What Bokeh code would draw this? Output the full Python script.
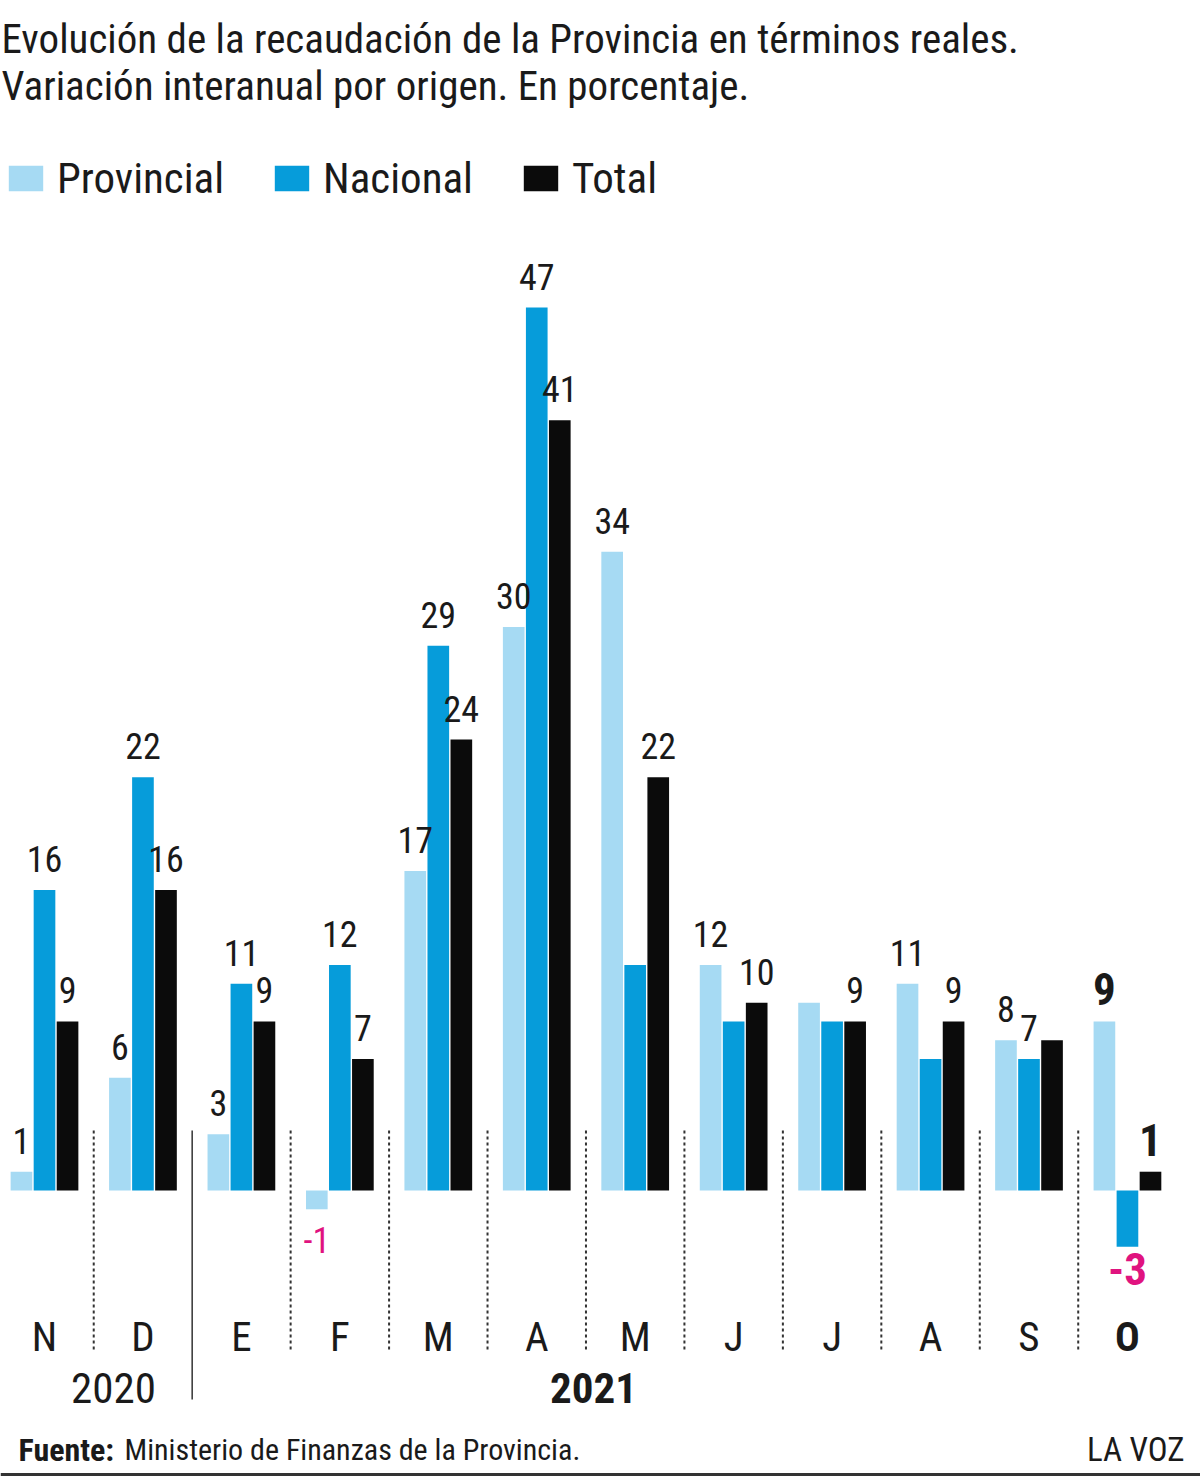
from bokeh.plotting import figure
from bokeh.models import Range1d, ColumnDataSource, Label, Legend, LegendItem, Span
from bokeh.embed import file_html
from bokeh.resources import INLINE
from bokeh.core.properties import value

# ---------------- data ----------------
months = ["N", "D", "E", "F", "M", "A", "M", "J", "J", "A", "S", "O"]
years = ["2020", "2020", "2021", "2021", "2021", "2021", "2021", "2021", "2021", "2021", "2021", "2021"]
provincial = [1, 6, 3, -1, 17, 30, 34, 12, 10, 11, 8, 9]
nacional = [16, 22, 11, 12, 29, 47, 12, 9, 9, 7, 7, -3]
total = [9, 16, 9, 7, 24, 41, 22, 10, 9, 9, 8, 1]
# which value labels are printed in the original
show_prov = [1, 1, 1, 1, 1, 1, 1, 1, 0, 1, 1, 1]
show_nac = [1, 1, 1, 1, 1, 1, 0, 0, 0, 0, 1, 1]
show_tot = [1, 1, 1, 1, 1, 1, 1, 1, 1, 1, 0, 1]
highlight = [0, 0, 0, 0, 0, 0, 0, 0, 0, 0, 0, 1]

title_lines = ["Evolución de la recaudación de la Provincia en términos reales.",
               "Variación interanual por origen. En porcentaje."]
series_names = ["Provincial", "Nacional", "Total"]
source_bold = "Fuente:"
source_text = "Ministerio de Finanzas de la Provincia."
brand = "LA VOZ"

# ---------------- style ----------------
FONT = "Roboto Condensed"
C_PROV = "#a6daf3"
C_NAC = "#069cda"
C_TOT = "#0b0b0b"
C_TXT = "#1a1a1a"
C_NEG = "#e0137f"

W, H = 1200, 1477
GX0, GPX = 44.0, 98.45      # pixel centre of first group, pixel spacing between groups
Y0, YPX = 1190.0, 18.787    # pixel row of zero, pixels per percentage point


def xd(px):
    return (px - GX0) / GPX


def yd(py):
    return (Y0 - py) / YPX


p = figure(width=W, height=H, x_range=Range1d(xd(0), xd(W)), y_range=Range1d(yd(H), yd(0)),
           x_axis_type=None, y_axis_type=None, min_border=0, toolbar_location=None,
           output_backend="svg", outline_line_color=None, background_fill_color="white",
           border_fill_color="white")

n = len(months)
idx = list(range(n))
OFF = 0.234
BW = 0.22
series = [(provincial, show_prov, C_PROV, -OFF), (nacional, show_nac, C_NAC, 0.0), (total, show_tot, C_TOT, OFF)]

renderers = []
for vals, show, col, off in series:
    src = ColumnDataSource(dict(x=[i + off for i in idx], top=vals))
    r = p.vbar(x="x", top="top", bottom=0, width=BW, source=src, fill_color=col, line_color=None)
    renderers.append(r)

# value labels
pos = dict(x=[], y=[], text=[], size=[], style=[], color=[], off=[])
neg = dict(x=[], y=[], text=[], size=[], style=[], color=[], off=[])
for vals, show, col, off in series:
    for i in idx:
        if not show[i]:
            continue
        v = vals[i]
        d = pos if v >= 0 else neg
        d["x"].append(i + off)
        d["y"].append(v)
        d["text"].append(str(v))
        d["size"].append("45px" if highlight[i] else "36px")
        d["style"].append("bold" if highlight[i] else "normal")
        d["color"].append(C_NEG if v < 0 else C_TXT)
        if v >= 0:
            d["off"].append(-16 if highlight[i] else -18)
        else:
            d["off"].append(6 if highlight[i] else 18)

p.text(x="x", y="y", text="text", source=ColumnDataSource(pos), text_font=value(FONT),
       text_font_size="size", text_font_style="style", text_color="color",
       text_align="center", text_baseline="bottom", y_offset="off")
p.text(x="x", y="y", text="text", source=ColumnDataSource(neg), text_font=value(FONT),
       text_font_size="size", text_font_style="style", text_color="color",
       text_align="center", text_baseline="top", y_offset="off")

# separators between months
sep = dict(x=[], y0=[], y1=[])
ysep = dict(x=[], y0=[], y1=[])
for i in range(n - 1):
    if years[i] != years[i + 1]:
        ysep["x"].append(i + 0.5); ysep["y0"].append(yd(1130)); ysep["y1"].append(yd(1399))
    else:
        sep["x"].append(i + 0.5); sep["y0"].append(yd(1130)); sep["y1"].append(yd(1351))
p.segment(x0="x", x1="x", y0="y0", y1="y1", source=ColumnDataSource(sep),
          line_color="#333333", line_width=2, line_dash="3 3")
p.segment(x0="x", x1="x", y0="y0", y1="y1", source=ColumnDataSource(ysep),
          line_color="#333333", line_width=1.5)

# month labels
p.text(x=idx, y=[yd(1336)] * n, text=months, text_font=value(FONT), text_font_size="41px",
       text_font_style=["bold" if h else "normal" for h in highlight], text_color=C_TXT,
       text_align="center", text_baseline="middle")

# year labels
yr_list = []
for y in years:
    if y not in yr_list:
        yr_list.append(y)
yr_x = {"2020": xd(113), "2021": xd(593)}
for y in yr_list:
    p.add_layout(Label(x=yr_x[y], y=yd(1387), text=y, text_font=FONT, text_font_size="43px",
                       text_font_style="bold" if y == years[-1] else "normal",
                       text_color=C_TXT, text_align="center", text_baseline="middle"))

# title
for k, line in enumerate(title_lines):
    p.add_layout(Label(x=xd(1), y=yd(38 + 47 * k), text=line, text_font=FONT,
                       text_font_size="41px", text_color=C_TXT, text_baseline="alphabetic"))

# legend
legend = Legend(items=[LegendItem(label=nm, renderers=[r]) for nm, r in zip(series_names, renderers)],
                orientation="horizontal", location=(4, H - 203), glyph_width=43, glyph_height=32,
                label_standoff=10, spacing=46, padding=0, margin=0, border_line_color=None,
                background_fill_alpha=0, label_text_font=FONT, label_text_font_size="43px",
                label_text_color=C_TXT)
p.add_layout(legend)

# footer
p.add_layout(Label(x=xd(18), y=yd(1449), text=source_bold, text_font=FONT, text_font_size="32px",
                   text_font_style="bold", text_color=C_TXT, text_baseline="alphabetic"))
p.add_layout(Label(x=xd(124), y=yd(1449), text=source_text, text_font=FONT, text_font_size="30px",
                   text_color=C_TXT, text_baseline="alphabetic"))
p.add_layout(Label(x=xd(1184), y=yd(1449), text=brand, text_font=FONT, text_font_size="33px",
                   text_color=C_TXT, text_align="right", text_baseline="alphabetic"))
p.add_layout(Span(location=yd(1474), dimension="width", line_color="#333333", line_width=3))

open("out.html", "w").write(file_html(p, INLINE))
